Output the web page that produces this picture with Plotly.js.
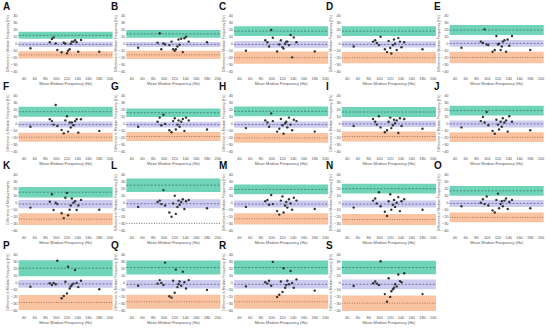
<!DOCTYPE html>
<html><head><meta charset="utf-8">
<script src="https://cdn.plot.ly/plotly-3.0.1.min.js"></script>
<style>html,body{margin:0;padding:0;background:#fff}#chart{width:550px;height:328px}</style>
</head><body><div id="chart"></div>
<script>
// Shared x: mean median frequency (Hz) per subject
const meanFreq = [52, 88, 92, 95, 99, 102, 110, 114, 117, 120, 122, 125, 127, 129, 132, 135, 138, 141, 146, 180];
const panelLabels = ['A','B','C','D','E','F','G','H','I','J','K','L','M','N','O','P','Q','R','S'];
// Differences (Hz) per panel
const diffA = [-6.6, 2, 6.7, 9, 0.5, -9, -12.3, 1.4, 0, -13.7, -10, -8, 0, 3, 3, 5, 2, -11.4, 5.3, -11.4];
const diffB = [-5.7, 1.4, 15, -8, 0.5, -1, -2, 3, -8, -10, -8, -4, 6, -1.5, 7, -12, 7.7, 10, 3, 2];
const diffC = [-10, 5, 2, -4, 19.6, 8.6, -11, -1, 5, -5, -7, 0, 3, 3, -2, 12.4, -19.5, 9, 2, -11];
const diffD = [-4, 3, 5, 1, -2, 10, -8, -12, 4, -6, -14, -2, 6, 0, -9, 8, 3, -5, 2, -8];
const diffE = [-5.7, 3, 1, 20.5, -1, -2, -11.4, -9, 11, -1, 0, -9, -4, 3, 5, -11.4, 6, -3, 11, -9];
const diffF = [-5, 5.6, 3, -2, 26, -4, -9.7, -14.5, 4, 10, -12, 1, -6, 1, -3, 3, 5.6, -13.5, 5.6, -11];
const diffG = [-5, 2, 8, -3, 12, -1, -10, -13, 3, 7, -9, -2, 4, -5, 2, 6, -11, 8, 4, -9];
const diffH = [-7, 4, 1, -5, 14, 3, -12, -8, 6, -3, -15, 0, 2, -6, 8, -2, -10, 5, 3, -12];
const diffI = [-4, 6, 2, -2, 10, -6, -13, -10, 2, 8, -7, -3, 5, 0, 4, -14, 7, -4, 6, -8];
const diffJ = [-6, 3, 9, 1, 16, -3, -11, -15, 5, -2, -9, 2, -5, 7, 1, 4, -12, 10, 2, -10];
const diffK = [-7, 1.4, 12, -10.4, 0, -2, -15, -22, 7, 14, -18, -10, -4, 6, 0, 2, -10.4, -4, 4, -10];
const diffL = [-6, 1, 3, -2, 18, -4, -14, -20, -1, 10, -16, -6, 3, -3, 1, 5, -9, 2, 4, -8];
const diffM = [-6, 2, 4, -3, 11, -2, -12, -17, 3, 9, -14, -4, 1, -7, 5, -1, -10, 7, 3, -9];
const diffN = [-7, 3, 6, -1, 15, -5, -13, -19, 2, 12, -10, -3, 4, -6, 0, 8, -12, 2, 5, -10];
const diffO = [-5, 0, 5, -2, 9, -4, -11, -14, 4, 13, -8, -2, 2, -5, 3, 6, -9, 1, 4, -8];
const diffP = [-6.4, -1.6, -4, -1, -3, 30.7, -23, -19.7, 0.7, -16, 22, -9, -6, -4, -2, 17.4, -1, -7, 2, -10];
const diffQ = [-5, -2, 3, -1, -4, 28, -20, -22, 2, -15, 18, -7, -3, 1, -5, 15, 0, -9, 3, -11];
const diffR = [-6, 0, -2, 2, -5, 29, -21, -18, 1, -14, 20, -8, -4, 2, -3, 16, -1, -8, 4, -12];
const diffS = [-5.4, -1.6, 1, -2, -4, 30, -17, -28, 5.6, -21, -13, -10, -8, -3, -6, 11, 1.6, 0, 12.7, -17];
const diffs = [diffA, diffB, diffC, diffD, diffE, diffF, diffG, diffH, diffI, diffJ, diffK, diffL, diffM, diffN, diffO, diffP, diffQ, diffR, diffS];
// Limits of agreement and their confidence half-widths
const upperLoA = [12, 14, 18, 18, 19.5, 16.4, 15, 17, 16, 18, 15, 25, 19, 20, 17, 20, 21, 21, 21];
const upperCI  = [5, 5.5, 7, 7, 7.1, 7.1, 6, 7, 7, 7, 7.6, 9.6, 7, 7, 7, 11.5, 10, 10, 9.5];
const biasVal  = [-1, -1, -1, -1, 0.5, -2, -2, -2, -1, -1, -2, -1.5, -2, -2, -1, -2.4, -3, -3, -3];
const biasCI   = [3.8, 3.6, 4.8, 4.5, 4.8, 4.3, 4, 4.5, 4.5, 5, 6, 6.4, 5, 5, 5, 5.5, 6, 6, 7];
const lowerLoA = [-16, -16, -20, -20, -19.7, -20, -19, -21, -19, -20, -23.5, -29.5, -23, -24, -21, -29, -28, -28, -30];
const lowerCI  = [5.2, 6, 8.8, 8, 8.3, 6.4, 6.5, 7, 7, 7, 8.4, 0, 8, 8, 7, 10.7, 10, 10, 11];
const yTitles = panelLabels.map(l => l === 'K' ? 'Difference of Measurements' : 'Difference in Median Frequency (Hz)');
const xTitle = 'Mean Median Frequency (Hz)';
const xTicks = [40, 60, 80, 100, 120, 140, 160, 180, 200];
const yTicks = [-40, -30, -20, -10, 0, 10, 20, 30, 40];

const W = 550, H = 328, colPitch = 107.75, rowPitch = 79.5;
const traces = [], shapes = [], annotations = [];
const layout = {width: W, height: H, margin: {l:0, r:0, t:0, b:0}, showlegend: false,
  paper_bgcolor: '#fff', plot_bgcolor: '#fff', font: {family: 'Liberation Sans, Arial, sans-serif', color: '#444'}};
const green = 'rgb(112,212,184)', purple = 'rgb(206,204,238)', orange = 'rgb(250,196,162)';

panelLabels.forEach((lab, i) => {
  const c = i % 5, r = Math.floor(i / 5);
  const left = c * colPitch, top = r * rowPitch;
  const xid = i === 0 ? 'x' : 'x' + (i + 1);
  const yid = i === 0 ? 'y' : 'y' + (i + 1);
  const xk = i === 0 ? 'xaxis' : 'xaxis' + (i + 1);
  const yk = i === 0 ? 'yaxis' : 'yaxis' + (i + 1);
  const x0 = (left + 18.6) / W, x1 = (left + 112.7) / W;
  const y1 = 1 - (top + 12.2) / H, y0 = 1 - (top + 75.2) / H;
  layout[xk] = {domain: [x0, x1], anchor: yid, range: [30, 205], tickvals: xTicks, ticks: '',
    showgrid: false, zeroline: false, showline: false, tickfont: {size: 4, color: '#555'},
    title: {text: xTitle, font: {size: 4, color: '#555'}, standoff: 1}};
  layout[yk] = {domain: [y0, y1], anchor: xid, range: [-45, 45], tickvals: yTicks, ticks: '',
    showgrid: false, zeroline: false, showline: false, tickfont: {size: 4, color: '#555'},
    title: {text: yTitles[i], font: {size: 3.5, color: '#555'}, standoff: 1}};
  const band = (lo, hi, col) => shapes.push({type: 'rect', xref: xid + ' domain', yref: yid, x0: 0, x1: 1,
    y0: lo, y1: hi, fillcolor: col, line: {width: 0}, layer: 'below'});
  const dline = (v, col, dash) => shapes.push({type: 'line', xref: xid + ' domain', yref: yid, x0: 0, x1: 1,
    y0: v, y1: v, line: {color: col, width: 0.7, dash: dash}, layer: 'below'});
  band(upperLoA[i] - upperCI[i], upperLoA[i] + upperCI[i], green);
  band(biasVal[i] - biasCI[i], biasVal[i] + biasCI[i], purple);
  if (lowerCI[i] > 0) band(lowerLoA[i] - lowerCI[i], lowerLoA[i] + lowerCI[i], orange);
  dline(upperLoA[i], '#2e6e5c', '2px,1.5px');
  dline(biasVal[i], '#4c4a8c', '2px,1.5px');
  dline(lowerLoA[i], lowerCI[i] > 0 ? '#8c4a28' : '#333', '1px,1.5px');
  traces.push({type: 'scatter', mode: 'markers', x: meanFreq, y: diffs[i], xaxis: xid, yaxis: yid,
    marker: {size: 2.4, color: '#333', line: {width: 0}}, hoverinfo: 'skip'});
  annotations.push({text: '<b>' + lab + '</b>', xref: 'paper', yref: 'paper', x: (left + 1) / W, y: 1 - (top + 6.5) / H,
    xanchor: 'left', yanchor: 'middle', showarrow: false, font: {size: 10, color: '#111', family: 'Liberation Sans, Arial, sans-serif'}});
});
layout.shapes = shapes;
layout.annotations = annotations;
Plotly.newPlot('chart', traces, layout, {staticPlot: true, displayModeBar: false});
</script></body></html>
